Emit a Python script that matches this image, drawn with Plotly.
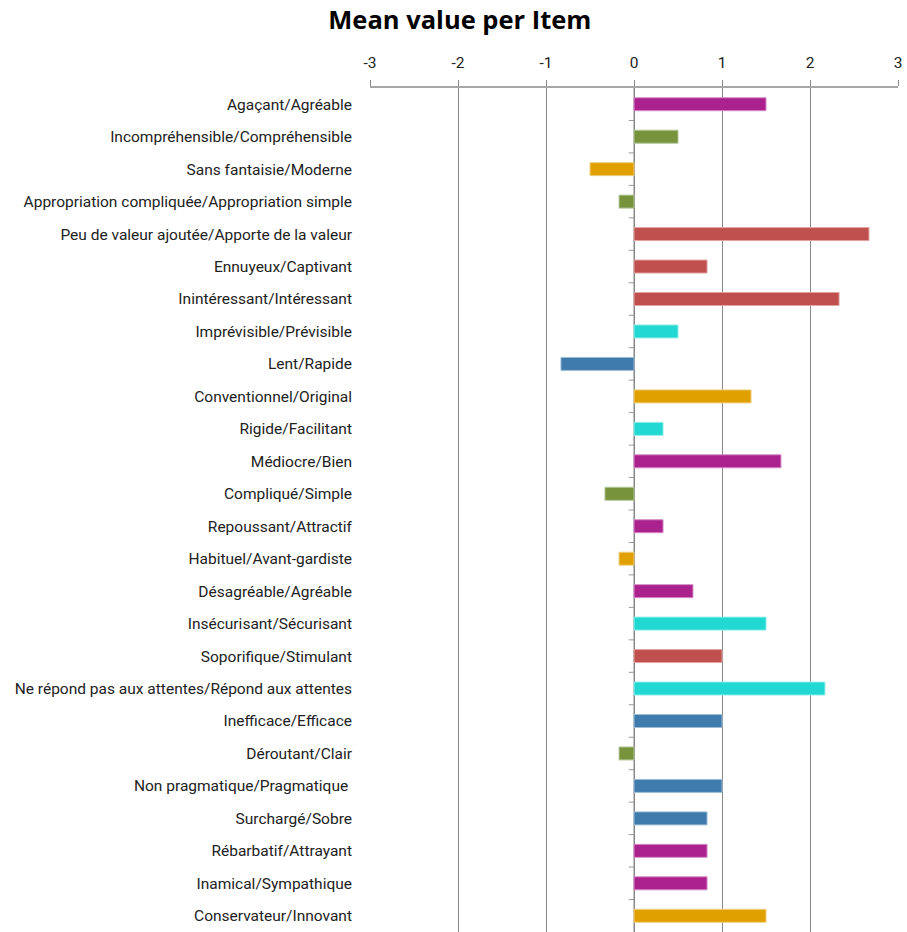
import plotly.graph_objects as go

items = [
    "Agaçant/Agréable",
    "Incompréhensible/Compréhensible",
    "Sans fantaisie/Moderne",
    "Appropriation compliquée/Appropriation simple",
    "Peu de valeur ajoutée/Apporte de la valeur",
    "Ennuyeux/Captivant",
    "Inintéressant/Intéressant",
    "Imprévisible/Prévisible",
    "Lent/Rapide",
    "Conventionnel/Original",
    "Rigide/Facilitant",
    "Médiocre/Bien",
    "Compliqué/Simple",
    "Repoussant/Attractif",
    "Habituel/Avant-gardiste",
    "Désagréable/Agréable",
    "Insécurisant/Sécurisant",
    "Soporifique/Stimulant",
    "Ne répond pas aux attentes/Répond aux attentes",
    "Inefficace/Efficace",
    "Déroutant/Clair",
    "Non pragmatique/Pragmatique ",
    "Surchargé/Sobre",
    "Rébarbatif/Attrayant",
    "Inamical/Sympathique",
    "Conservateur/Innovant",
]
means = [1.5, 0.5, -0.5, -0.17, 2.67, 0.83, 2.33, 0.5, -0.83, 1.33, 0.33, 1.67,
         -0.33, 0.33, -0.17, 0.67, 1.5, 1.0, 2.17, 1.0, -0.17, 1.0, 0.83, 0.83,
         0.83, 1.5]
groups = ["att", "prag", "stim", "prag", "red", "red", "red", "dep", "eff", "stim",
          "dep", "att", "prag", "att", "stim", "att", "dep", "red", "dep", "eff",
          "prag", "eff", "eff", "att", "att", "stim"]
palette = {"att": "#AB218E", "prag": "#77933C", "stim": "#E0A000", "red": "#C0504D",
           "dep": "#22D8D2", "eff": "#3F7BAD"}
edge = {"att": "#D58BC6", "prag": "#B3C79A", "stim": "#F0CF80", "red": "#E0A3A1",
        "dep": "#8FEDEA", "eff": "#9FBDD6"}
xticks = [-3, -2, -1, 0, 1, 2, 3]

fig = go.Figure(go.Bar(
    x=means, y=items, orientation="h", width=0.4,
    marker=dict(color=[palette[g] for g in groups],
                line=dict(color=[edge[g] for g in groups], width=1)),
    hoverinfo="x+y",
))

# small tick marks on the category axis (at x=0, between categories)
shapes = []
for i in range(len(items) - 1):
    shapes.append(dict(type="line", xref="x", yref="y",
                       x0=-0.06, x1=0, y0=i + 0.5, y1=i + 0.5,
                       line=dict(color="#999999", width=1)))
shapes.append(dict(type="line", xref="x", yref="paper", x0=0, x1=0, y0=0, y1=1,
                   line=dict(color="#888888", width=1), layer="below"))
fig.update_layout(
    width=907, height=932,
    margin=dict(l=370, r=9, t=88, b=0),
    paper_bgcolor="white", plot_bgcolor="white",
    title=dict(text="<b>Mean value per Item</b>", x=0.507, xref="container", xanchor="center",
               y=0.978, yanchor="middle",
               font=dict(family="Open Sans, Lato, sans-serif", size=25.5, color="black")),
    font=dict(family="Roboto, sans-serif", size=15.5, color="#222222"),
    showlegend=False,
    bargap=0.6,
    shapes=shapes,
    xaxis=dict(side="top", range=[-3, 3], tickvals=xticks, ticktext=[str(t) for t in xticks],
               showgrid=True, gridcolor="#888888", gridwidth=1, zeroline=False,
               showline=True, linecolor="#A6A6A6", linewidth=1.5,
               ticks="outside", ticklen=6, tickcolor="#888888", ticklabelstandoff=6,
               tickfont=dict(size=15.5, color="#222222"), fixedrange=True),
    yaxis=dict(categoryorder="array", categoryarray=items, autorange="reversed",
               showgrid=False, zeroline=False, showline=False, ticks="",
               ticklabelstandoff=17, tickfont=dict(size=15.5, color="#222222"), fixedrange=True),
)

fig.write_html("out.html")
